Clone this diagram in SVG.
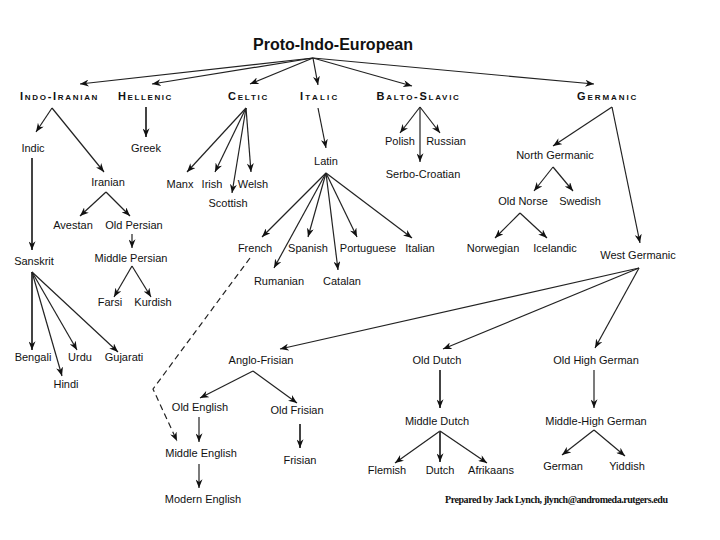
<svg xmlns="http://www.w3.org/2000/svg" width="720" height="540" viewBox="0 0 720 540">
<style>
text{font-family:"Liberation Sans",Arial,sans-serif;font-size:11px;fill:#111;text-anchor:middle}
.title{font-size:16px;font-weight:bold}
.hdr{font-size:11px;font-weight:bold;font-variant:small-caps;letter-spacing:0.6px}
.foot{font-family:"Liberation Serif","Times New Roman",serif;font-size:10px;font-weight:bold;text-anchor:start}
line,polyline{stroke:#222;stroke-width:1.2;fill:none}
.a{marker-end:url(#ah)}
.thick{stroke:#444;stroke-width:2}
.dash{stroke-dasharray:6,4}
</style>
<defs>
<marker id="ah" viewBox="0 0 10 8" refX="10" refY="4" markerWidth="9" markerHeight="7" orient="auto" markerUnits="userSpaceOnUse">
<path d="M0,0 L10,4 L0,8 L3,4 z" fill="#111"/>
</marker>
</defs>
<rect width="720" height="540" fill="#fff"/>
<g id="connectors">
<line class="a" x1="313" y1="58" x2="80" y2="84"/>
<line class="a" x1="313" y1="58" x2="152" y2="84"/>
<line class="a" x1="313" y1="58" x2="250" y2="84"/>
<line class="a" x1="313" y1="58" x2="318" y2="85"/>
<line class="a" x1="313" y1="58" x2="412" y2="86"/>
<line class="a" x1="313" y1="58" x2="594" y2="84"/>
<line class="a" x1="52" y1="108" x2="36" y2="132"/>
<line class="a" x1="52" y1="108" x2="104" y2="172"/>
<line class="a thick" x1="146" y1="107" x2="146" y2="137"/>
<line class="a thick" x1="32" y1="158" x2="32" y2="250"/>
<line class="a" x1="106" y1="192" x2="80" y2="216"/>
<line class="a" x1="106" y1="192" x2="130" y2="216"/>
<line class="a" x1="132" y1="234" x2="132" y2="248"/>
<line class="a" x1="132" y1="266" x2="114" y2="297"/>
<line class="a" x1="132" y1="266" x2="151" y2="297"/>
<line class="a thick" x1="32" y1="272" x2="32" y2="350"/>
<line class="a" x1="32" y1="272" x2="62" y2="376"/>
<line class="a" x1="32" y1="272" x2="77" y2="350"/>
<line class="a" x1="32" y1="272" x2="118" y2="352"/>
<line class="a" x1="246" y1="108" x2="187" y2="172"/>
<line class="a" x1="246" y1="108" x2="215" y2="172"/>
<line class="a" x1="246" y1="108" x2="232" y2="193"/>
<line class="a" x1="246" y1="108" x2="251" y2="172"/>
<line class="a" x1="318" y1="108" x2="326" y2="148"/>
<line class="a" x1="326" y1="173" x2="262" y2="237"/>
<line class="a" x1="326" y1="173" x2="274" y2="268"/>
<line class="a" x1="326" y1="173" x2="308" y2="237"/>
<line class="a" x1="326" y1="173" x2="338" y2="270"/>
<line class="a" x1="326" y1="173" x2="357" y2="237"/>
<line class="a" x1="326" y1="173" x2="412" y2="238"/>
<polyline class="a dash" points="250,258 153,389 177,441"/>
<line class="a" x1="420" y1="107" x2="400" y2="133"/>
<line class="a" x1="420" y1="107" x2="440" y2="133"/>
<line class="a" x1="420" y1="107" x2="420" y2="162"/>
<line class="a" x1="612" y1="107" x2="553" y2="146"/>
<line class="a" x1="612" y1="107" x2="640" y2="243"/>
<line class="a" x1="553" y1="167" x2="534" y2="191"/>
<line class="a" x1="553" y1="167" x2="573" y2="191"/>
<line class="a" x1="520" y1="213" x2="495" y2="238"/>
<line class="a" x1="520" y1="213" x2="547" y2="238"/>
<line class="a" x1="639" y1="268" x2="280" y2="349"/>
<line class="a" x1="639" y1="268" x2="443" y2="349"/>
<line class="a" x1="639" y1="268" x2="595" y2="348"/>
<line class="a" x1="253" y1="371" x2="200" y2="398"/>
<line class="a" x1="253" y1="371" x2="297" y2="403"/>
<line class="a" x1="199" y1="417" x2="199" y2="442"/>
<line class="a" x1="199" y1="464" x2="199" y2="488"/>
<line class="a thick" x1="300" y1="424" x2="300" y2="448"/>
<line class="a thick" x1="440" y1="370" x2="440" y2="408"/>
<line class="a" x1="440" y1="431" x2="395" y2="463"/>
<line class="a thick" x1="440" y1="431" x2="440" y2="462"/>
<line class="a" x1="440" y1="431" x2="487" y2="463"/>
<line class="a" x1="594" y1="370" x2="594" y2="408"/>
<line class="a" x1="594" y1="430" x2="562" y2="455"/>
<line class="a" x1="594" y1="430" x2="625" y2="456"/>
</g>
<g id="n-pie"><text class="title" x="333" y="50">Proto-Indo-European</text></g>
<g id="n-indoiranian"><text class="hdr" x="59" y="100" textLength="78">Indo-Iranian</text></g>
<g id="n-hellenic"><text class="hdr" x="145" y="100" textLength="54">Hellenic</text></g>
<g id="n-celtic"><text class="hdr" x="248" y="100" textLength="40">Celtic</text></g>
<g id="n-italic"><text class="hdr" x="319" y="100" textLength="38">Italic</text></g>
<g id="n-baltoslavic"><text class="hdr" x="418" y="100" textLength="83">Balto-Slavic</text></g>
<g id="n-germanic"><text class="hdr" x="607" y="100" textLength="60">Germanic</text></g>
<g id="n-indic"><text x="33" y="152">Indic</text></g>
<g id="n-greek"><text x="146" y="152">Greek</text></g>
<g id="n-iranian"><text x="108" y="186">Iranian</text></g>
<g id="n-avestan"><text x="73" y="229">Avestan</text></g>
<g id="n-oldpersian"><text x="134" y="229">Old Persian</text></g>
<g id="n-middlepersian"><text x="131" y="262">Middle Persian</text></g>
<g id="n-farsi"><text x="110" y="306">Farsi</text></g>
<g id="n-kurdish"><text x="153" y="306">Kurdish</text></g>
<g id="n-sanskrit"><text x="34" y="265">Sanskrit</text></g>
<g id="n-bengali"><text x="33" y="361">Bengali</text></g>
<g id="n-urdu"><text x="80" y="361">Urdu</text></g>
<g id="n-gujarati"><text x="124" y="361">Gujarati</text></g>
<g id="n-hindi"><text x="66" y="388">Hindi</text></g>
<g id="n-manx"><text x="180" y="188">Manx</text></g>
<g id="n-irish"><text x="212" y="188">Irish</text></g>
<g id="n-welsh"><text x="253" y="188">Welsh</text></g>
<g id="n-scottish"><text x="228" y="207">Scottish</text></g>
<g id="n-latin"><text x="326" y="165">Latin</text></g>
<g id="n-french"><text x="255" y="252">French</text></g>
<g id="n-spanish"><text x="308" y="252">Spanish</text></g>
<g id="n-portuguese"><text x="368" y="252">Portuguese</text></g>
<g id="n-italian"><text x="420" y="252">Italian</text></g>
<g id="n-rumanian"><text x="279" y="285">Rumanian</text></g>
<g id="n-catalan"><text x="342" y="285">Catalan</text></g>
<g id="n-polish"><text x="400" y="145">Polish</text></g>
<g id="n-russian"><text x="446" y="145">Russian</text></g>
<g id="n-serbocroatian"><text x="423" y="178">Serbo-Croatian</text></g>
<g id="n-northgermanic"><text x="555" y="159">North Germanic</text></g>
<g id="n-oldnorse"><text x="523" y="205">Old Norse</text></g>
<g id="n-swedish"><text x="580" y="205">Swedish</text></g>
<g id="n-norwegian"><text x="493" y="252">Norwegian</text></g>
<g id="n-icelandic"><text x="555" y="252">Icelandic</text></g>
<g id="n-westgermanic"><text x="638" y="259">West Germanic</text></g>
<g id="n-anglofrisian"><text x="261" y="364">Anglo-Frisian</text></g>
<g id="n-olddutch"><text x="437" y="364">Old Dutch</text></g>
<g id="n-oldhighgerman"><text x="596" y="364">Old High German</text></g>
<g id="n-oldenglish"><text x="200" y="411">Old English</text></g>
<g id="n-oldfrisian"><text x="297" y="414">Old Frisian</text></g>
<g id="n-middleenglish"><text x="201" y="457">Middle English</text></g>
<g id="n-modernenglish"><text x="203" y="503">Modern English</text></g>
<g id="n-frisian"><text x="300" y="464">Frisian</text></g>
<g id="n-middledutch"><text x="437" y="425">Middle Dutch</text></g>
<g id="n-flemish"><text x="387" y="474">Flemish</text></g>
<g id="n-dutch"><text x="440" y="474">Dutch</text></g>
<g id="n-afrikaans"><text x="491" y="474">Afrikaans</text></g>
<g id="n-middlehighgerman"><text x="596" y="425">Middle-High German</text></g>
<g id="n-german"><text x="563" y="470">German</text></g>
<g id="n-yiddish"><text x="627" y="470">Yiddish</text></g>
<g id="n-footer"><text class="foot" x="445" y="503" textLength="223">Prepared by Jack Lynch, jlynch@andromeda.rutgers.edu</text></g>
</svg>
